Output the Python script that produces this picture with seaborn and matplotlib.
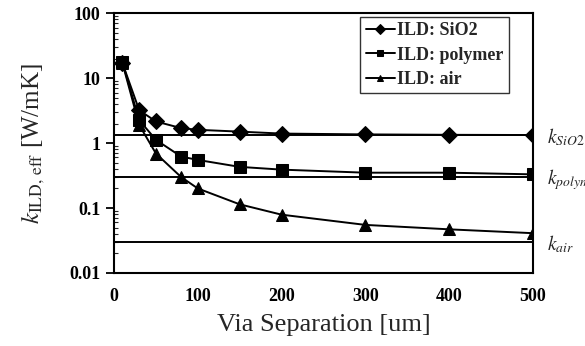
import pandas as pd
import matplotlib.pyplot as plt
import seaborn as sns

# data
via_sep = [10, 30, 50, 80, 100, 150, 200, 300, 400, 500]
k_sio2 = [17, 3.2, 2.15, 1.7, 1.6, 1.5, 1.4, 1.36, 1.34, 1.33]
k_polymer = [17.5, 2.25, 1.12, 0.62, 0.55, 0.43, 0.39, 0.35, 0.35, 0.33]
k_air = [17, 1.9, 0.69, 0.30, 0.20, 0.114, 0.079, 0.055, 0.047, 0.041]
bulk_k = [1.33, 0.30, 0.03]
bulk_names = ['SiO2', 'polymer', 'air']

df = pd.DataFrame({
    'x': via_sep * 3,
    'k': k_sio2 + k_polymer + k_air,
    'ild': ['ILD: SiO2'] * 10 + ['ILD: polymer'] * 10 + ['ILD: air'] * 10,
})

sns.set_theme(style="white")
plt.rcParams['font.family'] = ['Liberation Serif', 'DejaVu Serif']
plt.rcParams['mathtext.fontset'] = 'stix'

fig = plt.figure(figsize=(5.85, 3.46), dpi=100)
ax = fig.add_axes([0.195, 0.211, 0.716, 0.751])

sns.lineplot(data=df, x='x', y='k', hue='ild', style='ild',
             palette=['black'] * 3, markers=['D', 's', '^'], dashes=False,
             markersize=8, linewidth=1.4, markeredgecolor='black', ax=ax)

for val, name in zip(bulk_k, bulk_names):
    ax.axhline(val, color='black', linewidth=1.4, zorder=1)
    ax.text(517, val * 0.92, r'$k_{\mathit{' + name + '}}$', fontsize=14,
            va='center', ha='left', clip_on=False)

ax.set_yscale('log')
ax.set_xlim(0, 500)
ax.set_ylim(0.01, 100)
ax.set_xticks([0, 100, 200, 300, 400, 500])
ax.set_yticks([0.01, 0.1, 1, 10, 100])
ax.set_yticklabels(['0.01', '0.1', '1', '10', '100'])
ax.tick_params(axis='both', labelsize=13, colors='black', width=1.3)
for lab in ax.get_xticklabels() + ax.get_yticklabels():
    lab.set_fontweight('bold')
ax.tick_params(axis='x', direction='inout', length=6, pad=8)
ax.tick_params(axis='y', which='major', direction='out', length=6, left=True, pad=4)
ax.tick_params(axis='y', which='minor', direction='in', length=3, left=True, width=0.8)

for sp in ax.spines.values():
    sp.set_color('black')
    sp.set_linewidth(1.5)

ax.set_xlabel('Via Separation [um]', fontsize=19, labelpad=6)
ax.set_ylabel(r'$k_{\mathrm{ILD,\,eff}}$ [W/mK]', fontsize=18, labelpad=16)

leg = ax.legend(loc='upper right', bbox_to_anchor=(0.943, 0.985),
                prop={'size': 13, 'weight': 'bold'},
                frameon=True, fancybox=False, edgecolor='black',
                handlelength=1.6, handletextpad=0.15, borderpad=0.3,
                labelspacing=0.4, borderaxespad=0)
leg.get_frame().set_linewidth(1.0)
for h in leg.legend_handles:
    h.set_markersize(5)

plt.savefig('out.png', dpi=100)
